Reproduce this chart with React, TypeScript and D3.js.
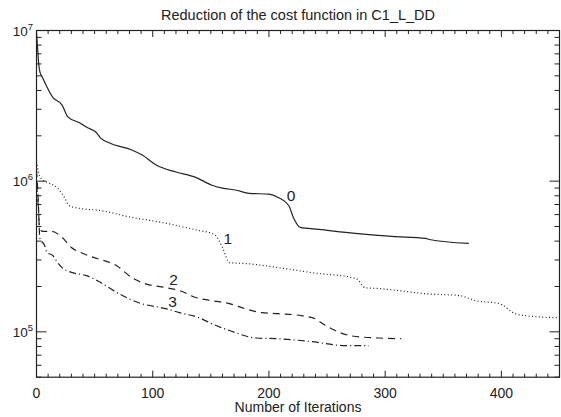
import React, { useEffect, useRef } from 'react';
import * as d3 from 'd3';

// [iteration, cost]
const run0: [number, number][] = [
  [0, 9.7e6], [1, 7.5e6], [2, 5.9e6], [3, 5.3e6], [5, 4.9e6], [14, 3.6e6], [22, 3.2e6],
  [27, 2.67e6], [37, 2.44e6], [44, 2.26e6], [51, 2.12e6], [55, 1.94e6], [63, 1.79e6],
  [82, 1.61e6], [91, 1.49e6], [103, 1.28e6], [120, 1.15e6], [137, 1.06e6], [151, 9.4e5],
  [160, 9.0e5], [172, 8.7e5], [183, 8.3e5], [200, 8.2e5], [208, 7.8e5], [217, 6.9e5],
  [221, 5.75e5], [227, 4.93e5], [243, 4.79e5], [266, 4.57e5], [294, 4.37e5], [306, 4.3e5],
  [335, 4.17e5], [338, 4.1e5], [372, 3.86e5],
];
const run1: [number, number][] = [
  [0, 1.35e6], [2, 1.13e6], [5, 1.02e6], [11, 9.7e5], [18, 9.0e5], [24, 7.8e5], [28, 6.9e5],
  [37, 6.6e5], [54, 6.4e5], [82, 5.75e5], [112, 5.25e5], [140, 4.7e5], [151, 4.5e5],
  [154, 4.37e5], [160, 3.63e5], [166, 2.88e5], [180, 2.84e5], [208, 2.67e5], [237, 2.47e5],
  [275, 2.26e5], [283, 1.96e5], [294, 1.94e5], [306, 1.9e5], [335, 1.79e5], [364, 1.74e5],
  [378, 1.61e5], [398, 1.54e5], [412, 1.32e5], [421, 1.28e5], [450, 1.24e5],
];
const run2: [number, number][] = [
  [0, 1.18e6], [1.5, 7.5e5], [2.4, 5.1e5], [5, 4.64e5], [13, 4.64e5], [22, 4.24e5],
  [30, 3.63e5], [40, 3.31e5], [52, 3.07e5], [69, 2.75e5], [82, 2.29e5], [91, 2.12e5],
  [112, 1.96e5], [123, 1.88e5], [137, 1.69e5], [151, 1.61e5], [166, 1.54e5], [180, 1.42e5],
  [194, 1.34e5], [208, 1.32e5], [228, 1.28e5], [240, 1.22e5], [245, 1.15e5], [257, 1.02e5],
  [271, 9.4e4], [294, 9.1e4], [314, 9.0e4],
];
const run3: [number, number][] = [
  [0, 9.4e5], [2, 5.9e5], [2.8, 4.2e5], [7, 3.74e5], [9, 3.36e5], [14, 3.21e5], [17, 2.97e5],
  [22, 2.67e5], [31, 2.47e5], [43, 2.36e5], [52, 2.19e5], [71, 1.79e5], [88, 1.56e5],
  [112, 1.42e5], [123, 1.34e5], [140, 1.24e5], [151, 1.13e5], [166, 1.02e5], [189, 9.1e4],
  [208, 9.0e4], [237, 8.6e4], [266, 8.1e4], [286, 8.1e4],
];

const runNames = ['0', '1', '2', '3'];
const labelIter = [219, 164.6, 118, 117];
const labelCost = [7.4e5, 3.8e5, 2.04e5, 1.46e5];

const xTickValues = [0, 100, 200, 300, 400];
const yDecades = [5, 6, 7];

const title = 'Reduction of the cost function in C1_L_DD';
const xTitle = 'Number of Iterations';

const W = 561;
const H = 417;

const App: React.FC = () => {
  const svgRef = useRef<SVGSVGElement>(null);

  useEffect(() => {
    if (!svgRef.current) return;
    const svg = d3.select(svgRef.current);
    svg.selectAll('*').remove();

    const left = 36.5, right = 559.5, top = 30.5, bottom = 377.2;
    const x = d3.scaleLinear().domain([0, 450]).range([left, right]);
    const y = d3.scaleLog().domain([5e4, 1e7]).range([bottom, top]);
    const ink = '#222';

    svg.append('defs').append('clipPath').attr('id', 'plot')
      .append('rect').attr('x', left).attr('y', top)
      .attr('width', right - left).attr('height', bottom - top);

    // frame
    svg.append('rect')
      .attr('x', left).attr('y', top)
      .attr('width', right - left).attr('height', bottom - top)
      .attr('fill', 'none').attr('stroke', ink).attr('stroke-width', 1.2);

    // x ticks, bottom and top, inward
    const xt = d3.range(0, 451, 10);
    const tg = svg.append('g').attr('stroke', ink).attr('stroke-width', 1);
    xt.forEach(v => {
      const len = v % 100 === 0 ? 6.5 : 3.5;
      tg.append('line').attr('x1', x(v)).attr('x2', x(v)).attr('y1', bottom).attr('y2', bottom - len);
      tg.append('line').attr('x1', x(v)).attr('x2', x(v)).attr('y1', top).attr('y2', top + len);
    });

    // y ticks, left and right
    const yt: number[] = [];
    for (let e = 4; e <= 6; e++) for (let m = 1; m <= 9; m++) yt.push(m * 10 ** e);
    yt.push(1e7);
    yt.filter(v => v >= 5e4 && v <= 1e7).forEach(v => {
      const major = Math.abs(Math.log10(v) - Math.round(Math.log10(v))) < 1e-9;
      const len = major ? 10 : 5;
      tg.append('line').attr('x1', left).attr('x2', left + len).attr('y1', y(v)).attr('y2', y(v));
      tg.append('line').attr('x1', right).attr('x2', right - len).attr('y1', y(v)).attr('y2', y(v));
    });

    const font = 'Liberation Sans, Arial, Helvetica, sans-serif';

    // x tick labels
    svg.append('g').selectAll('text').data(xTickValues).join('text')
      .attr('x', d => x(d)).attr('y', 397.5)
      .attr('text-anchor', 'middle').attr('font-family', font).attr('font-size', 14)
      .attr('fill', ink).text(d => d);

    // y tick labels 10^n
    const yl = svg.append('g').selectAll('text').data(yDecades).join('text')
      .attr('x', 33).attr('y', d => y(10 ** d) + 5)
      .attr('text-anchor', 'end').attr('font-family', font).attr('font-size', 13.5)
      .attr('fill', ink);
    yl.append('tspan').text('10');
    yl.append('tspan').attr('dy', -6).attr('font-size', 9.5).text(d => d);

    // titles
    svg.append('text').attr('x', (left + right) / 2).attr('y', 20)
      .attr('text-anchor', 'middle').attr('font-family', font).attr('font-size', 14.5)
      .attr('fill', ink).text(title);
    svg.append('text').attr('x', (left + right) / 2).attr('y', 412)
      .attr('text-anchor', 'middle').attr('font-family', font).attr('font-size', 14)
      .attr('fill', ink).text(xTitle);

    // runs
    const line = d3.line<[number, number]>()
      .x(d => x(d[0])).y(d => y(d[1]))
      .curve(d3.curveMonotoneX);
    const runs = [run0, run1, run2, run3];
    const dashes = [null, '1,2.4', '7,5', '7,3,1.2,3'];
    const lg = svg.append('g').attr('clip-path', 'url(#plot)');
    runs.forEach((r, i) => {
      lg.append('path').attr('d', line(r))
        .attr('fill', 'none').attr('stroke', ink).attr('stroke-width', 1.2)
        .attr('stroke-dasharray', dashes[i]);
    });

    svg.append('g').selectAll('text').data(runNames).join('text')
      .attr('x', (d, i) => x(labelIter[i])).attr('y', (d, i) => y(labelCost[i]))
      .attr('text-anchor', 'middle').attr('font-family', font).attr('font-size', 15.5)
      .attr('fill', ink).text(d => d);
  }, []);

  return (
    <div style={{ position: 'absolute', left: 0, top: 0, width: W, height: H, background: '#fff' }}>
      <svg ref={svgRef} width={W} height={H} style={{ display: 'block' }} />
    </div>
  );
};

export default App;
